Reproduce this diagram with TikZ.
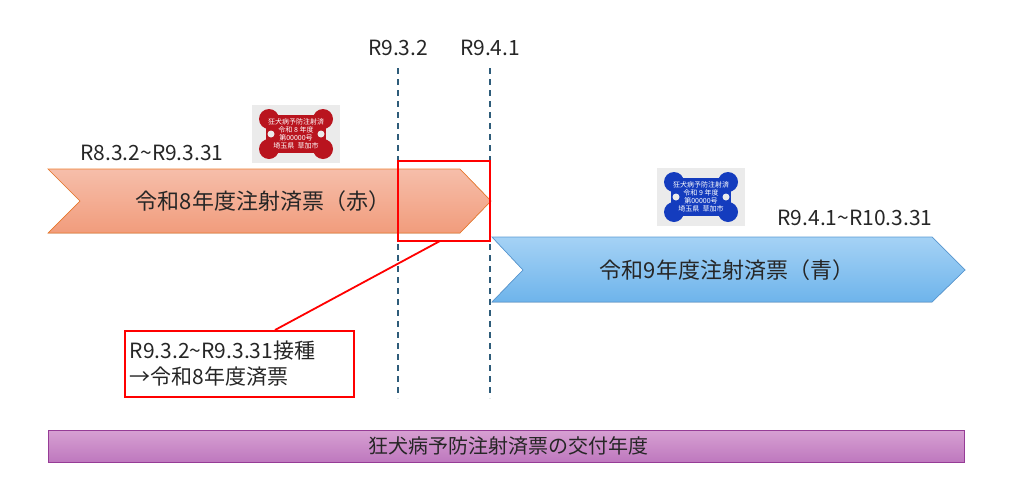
\documentclass[tikz,border=0pt]{standalone}
\usepackage{fontspec}
\setmainfont{Noto Sans CJK JP}
\usetikzlibrary{calc}
\definecolor{dashc}{HTML}{2E5C7A}
\definecolor{tagred}{RGB}{185,20,30}
\definecolor{tagblue}{RGB}{20,60,190}
\definecolor{rtop}{RGB}{246,190,170}
\definecolor{rbot}{RGB}{241,156,124}
\definecolor{rline}{RGB}{237,125,49}
\definecolor{btop}{RGB}{165,210,245}
\definecolor{bbot}{RGB}{110,180,235}
\definecolor{bline}{RGB}{91,155,213}
\definecolor{ptop}{RGB}{215,160,210}
\definecolor{pbot}{RGB}{190,120,190}
\definecolor{pline}{RGB}{150,60,150}
\tikzset{
  lbl/.style={font=\fontsize{21}{26}\selectfont, text=black!85},
  vline/.style={draw=dashc, line width=1.8pt, dash pattern=on 6pt off 5pt},
  redmark/.style={draw=red, line width=1.8pt},
}
\newcommand{\bonetag}[4]{% x y color text
  \begin{scope}[shift={(#1,#2)}]
  \fill[black!8] (0,0) rectangle (88,58);
  \fill[#3] (14,10) rectangle (74,48);
  \fill[#3] (17,14) circle (10); \fill[#3] (71,14) circle (10);
  \fill[#3] (17,44) circle (10); \fill[#3] (71,44) circle (10);
  \fill[black!8] (19,29) circle (3.5); \fill[black!8] (69,29) circle (3.5);
  \node[text=white, font=\fontsize{7}{8}\selectfont, align=center, inner sep=0] at (44,29) {狂犬病予防注射済\\令和 #4 年度\\第00000号\\埼玉県\ \ 草加市};
  \end{scope}}
\begin{document}
\begin{tikzpicture}[x=1pt,y=-1pt]
\useasboundingbox (0,0) rectangle (1009,501);
\fill[top color=rtop, bottom color=rbot, draw=rline, line width=0.7pt]
  (48,169) -- (460,169) -- (491,201) -- (460,233) -- (48,233) -- (80,201) -- cycle;
\node[lbl, font=\fontsize{22}{26}\selectfont] (rt) at (263,201) {令和8年度注射済票（赤）};
\fill[top color=btop, bottom color=bbot, draw=bline, line width=0.7pt]
  (492,237) -- (932,237) -- (965,270) -- (932,302) -- (492,302) -- (523,270) -- cycle;
\node[lbl, font=\fontsize{22}{26}\selectfont] (bt) at (727,270) {令和9年度注射済票（青）};
\coordinate (d1t) at (398,68); \coordinate (d1b) at (398,398);
\coordinate (d2t) at (490,68); \coordinate (d2b) at (490,398);
\draw[vline] (d1t) -- (d1b);
\draw[vline] (d2t) -- (d2b);
\node[lbl] (l1) at (398,48) {R9.3.2};
\node[lbl] (l2) at (490,48) {R9.4.1};
\node[lbl] (l3) at (152,153) {R8.3.2\textasciitilde R9.3.31};
\node[lbl] (l4) at (855,218) {R9.4.1\textasciitilde R10.3.31};
\draw[redmark] (398,161) rectangle (490,241);
\node[redmark, lbl, align=left, minimum width=229pt, minimum height=66pt, text width=219pt, inner sep=3pt, anchor=north west] (cb) at (124,330) {R9.3.2\textasciitilde R9.3.31接種\\→令和8年度済票};
\coordinate (rb) at (440,241);
\coordinate (ct) at (275,330);
\draw[red, line width=1.8pt] (rb) -- (ct);
\fill[top color=ptop, bottom color=pbot, draw=pline, line width=0.8pt] (48,430) rectangle (964,462);
\node[lbl, font=\fontsize{20}{22}\selectfont] (bb) at (508,446) {狂犬病予防注射済票の交付年度};
\bonetag{252}{105}{tagred}{8}
\bonetag{657}{168}{tagblue}{9}
\end{tikzpicture}
\end{document}
